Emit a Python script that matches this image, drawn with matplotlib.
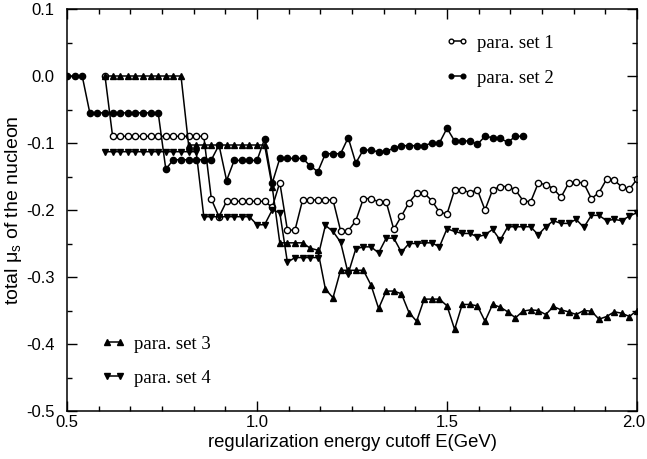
import numpy as np
import matplotlib
matplotlib.use("Agg")
from matplotlib import pyplot as plt
from matplotlib.transforms import ScaledTranslation

plt.rcParams['font.family'] = ['Liberation Sans', 'DejaVu Sans']
plt.rcParams['mathtext.fontset'] = 'custom'
plt.rcParams['mathtext.rm'] = 'Liberation Sans'
plt.rcParams['mathtext.it'] = 'Liberation Sans'

# -----------------------------------------------------------#
# Data, energy grid step 0.02 GeV
# -----------------------------------------------------------#
step = 0.02
E_start1, E_start2, E_start3, E_start4 = 0.60, 0.50, 0.60, 0.60

set1 = [0.0,
        -0.090, -0.090, -0.090, -0.090, -0.090, -0.090, -0.090, -0.090, -0.090, -0.090, -0.090, -0.090, -0.090,
        -0.184, -0.210,
        -0.187, -0.187, -0.187, -0.187, -0.187, -0.187,
        -0.196, -0.159, -0.230, -0.230,
        -0.185, -0.185, -0.185, -0.185, -0.185,
        -0.231, -0.231, -0.216, -0.183, -0.183, -0.188, -0.188,
        -0.229, -0.209, -0.189, -0.175, -0.175, -0.186, -0.203, -0.206,
        -0.170, -0.170, -0.174, -0.170, -0.200, -0.170, -0.165, -0.165, -0.170,
        -0.186, -0.188, -0.160, -0.162, -0.168, -0.181, -0.160, -0.158, -0.160,
        -0.183, -0.174, -0.154, -0.155, -0.166, -0.169, -0.154]

set2 = [0.0, 0.0, 0.0,
        -0.055, -0.055, -0.055, -0.055, -0.055, -0.055, -0.055, -0.055, -0.055, -0.055,
        -0.139,
        -0.125, -0.125, -0.125, -0.125, -0.125, -0.125,
        -0.103, -0.156,
        -0.126, -0.126, -0.126, -0.126,
        -0.094, -0.160,
        -0.123, -0.123, -0.123, -0.123,
        -0.134, -0.143, -0.116, -0.116, -0.116,
        -0.092, -0.130, -0.110, -0.111, -0.113, -0.112, -0.108,
        -0.104, -0.104, -0.104, -0.104, -0.100, -0.100,
        -0.078, -0.097, -0.097, -0.097, -0.102,
        -0.090, -0.092, -0.093, -0.099, -0.090, -0.090]

set3 = [0.0, 0.0, 0.0, 0.0, 0.0, 0.0, 0.0, 0.0, 0.0, 0.0, 0.0,
        -0.103, -0.103, -0.103, -0.103, -0.103, -0.103, -0.103, -0.103, -0.103, -0.103, -0.103,
        -0.165,
        -0.249, -0.249, -0.249, -0.249,
        -0.257, -0.260, -0.318, -0.331,
        -0.290, -0.290, -0.290, -0.290,
        -0.312, -0.347, -0.321, -0.321, -0.325, -0.353, -0.366,
        -0.333, -0.333, -0.333, -0.343, -0.378, -0.341, -0.341, -0.343, -0.366,
        -0.341, -0.345, -0.352, -0.361, -0.351, -0.349, -0.350, -0.356, -0.344,
        -0.349, -0.352, -0.356, -0.350, -0.351, -0.363, -0.359, -0.352, -0.354,
        -0.359, -0.350]

set4 = [-0.113, -0.113, -0.113, -0.113, -0.113, -0.113, -0.113, -0.113, -0.113, -0.113, -0.113, -0.113, -0.113,
        -0.210, -0.210, -0.210, -0.210, -0.210, -0.210, -0.210,
        -0.222, -0.222, -0.200, -0.204, -0.278,
        -0.271, -0.271, -0.271, -0.271,
        -0.223, -0.232, -0.248, -0.295, -0.258, -0.255, -0.255, -0.264,
        -0.242, -0.242, -0.263, -0.250, -0.250, -0.249, -0.249, -0.255,
        -0.228, -0.232, -0.235, -0.235, -0.240, -0.237, -0.229, -0.245,
        -0.225, -0.225, -0.225, -0.225,
        -0.237, -0.225, -0.216, -0.220, -0.220, -0.214, -0.226,
        -0.208, -0.208, -0.216, -0.214, -0.216, -0.209, -0.204]

E1 = E_start1 + step*np.arange(len(set1))
E2 = E_start2 + step*np.arange(len(set2))
E3 = E_start3 + step*np.arange(len(set3))
E4 = E_start4 + step*np.arange(len(set4))

# -----------------------------------------------------------#
# Figure
# -----------------------------------------------------------#
fig = plt.figure(figsize=(6.47, 4.59), dpi=100)
ax = fig.add_axes([67/647, 1-411/459, 570/647, 402/459])

ms = 4.5
lw = 1.1
l1, = ax.plot(E1, set1, 'o-', color='black', mfc='white', mec='black', ms=ms, lw=lw, mew=1.0, label='para. set 1')
l2, = ax.plot(E2, set2, 'o-', color='black', ms=ms, lw=lw, label='para. set 2')
l3, = ax.plot(E3, set3, '^-', color='black', ms=ms+0.5, lw=lw, label='para. set 3')
l4, = ax.plot(E4, set4, 'v-', color='black', ms=ms+0.5, lw=lw, label='para. set 4')

ax.set_xlim(0.5, 2.0)
ax.set_ylim(-0.5, 0.1)
ax.set_xticks([0.5, 1.0, 1.5, 2.0])
ax.set_xticks(np.arange(0.5, 2.0001, 0.5/6), minor=True)
ax.set_yticks(np.arange(-0.5, 0.1001, 0.1))
ax.set_yticks(np.arange(-0.5, 0.1001, 0.05), minor=True)
ax.set_xticklabels(['0.5', '1.0', '1.5', '2.0'])
ax.set_yticklabels(['-0.5', '-0.4', '-0.3', '-0.2', '-0.1', '0.0', '0.1'])
ax.tick_params(which='both', direction='in', top=True, right=True, labelsize=12, width=1.0)
ax.tick_params(which='major', length=7.5)
ax.tick_params(axis='x', which='major', pad=3)
ax.tick_params(axis='y', which='major', pad=9)
ax.tick_params(which='minor', length=3.5)
for s in ax.spines.values():
    s.set_linewidth(1.1)
# keep the last x label inside the figure
last = ax.get_xticklabels()[-1]
last.set_transform(last.get_transform() + ScaledTranslation(-3/100, 0, fig.dpi_scale_trans))

ax.set_xlabel('regularization energy cutoff E(GeV)', fontsize=13.3, labelpad=3)
ax.set_ylabel('total $\\mu_s$ of the nucleon', fontsize=14)
ax.yaxis.set_label_coords(-0.076, 0.5)

legfont = {'family': 'Liberation Serif', 'size': 13.5}
leg1 = ax.legend(handles=[l1, l2], loc='upper left', bbox_to_anchor=(0.663, 0.936),
                 frameon=False, prop=legfont, handlelength=1.25, handletextpad=0.45,
                 labelspacing=0.95, borderpad=0, borderaxespad=0, numpoints=2,
                 markerscale=0.75)
ax.add_artist(leg1)
ax.legend(handles=[l3, l4], loc='upper left', bbox_to_anchor=(0.061, 0.188),
          frameon=False, prop=legfont, handlelength=1.25, handletextpad=0.45,
          labelspacing=0.9, borderpad=0, borderaxespad=0, numpoints=2,
          markerscale=0.75)

fig.savefig('out.png', dpi=100)
